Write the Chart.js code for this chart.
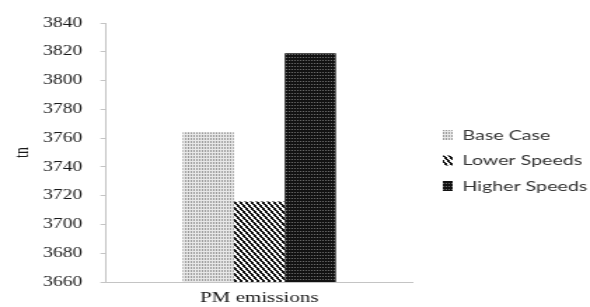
<!DOCTYPE html>
<html>
<head>
<meta charset="utf-8">
<script src="https://cdn.jsdelivr.net/npm/chart.js@4/dist/chart.umd.min.js"></script>
<style>
  html, body { margin: 0; padding: 0; background: #fff; overflow: hidden; }
  #wrap { width: 421px; height: 307px; transform: scaleX(1.4014); transform-origin: 0 0; }
</style>
</head>
<body>
<div id="wrap"><canvas id="pm-chart" width="421" height="307"></canvas></div>
<script>
const categories = ["PM emissions"];
const seriesNames = ["Base Case", "Lower Speeds", "Higher Speeds"];
const baseCase = [3764];
const lowerSpeeds = [3716];
const higherSpeeds = [3819];
const yTicks = [3660, 3680, 3700, 3720, 3740, 3760, 3780, 3800, 3820, 3840];

function makePattern(w, h, bg, paint) {
  const c = document.createElement("canvas");
  c.width = w;
  c.height = h;
  const g = c.getContext("2d");
  g.fillStyle = bg;
  g.fillRect(0, 0, w, h);
  paint(g);
  return document.getElementById("pm-chart").getContext("2d").createPattern(c, "repeat");
}

// light dotted fill
const dotsLight = makePattern(2, 3, "#e8e8e8", g => {
  g.fillStyle = "#9c9c9c";
  g.fillRect(0, 0, 1, 2);
});

// diagonal stripes, top-left to bottom-right
const stripes = makePattern(4, 6, "#ffffff", g => {
  g.fillStyle = "#111111";
  for (let y = 0; y < 6; y++) {
    const x = Math.round(y * 4 / 6);
    g.fillRect(x, y, 2, 1);
    if (x + 2 > 4) g.fillRect(0, y, x + 2 - 4, 1);
  }
});

// dark checker fill
const dotsDark = makePattern(2, 3, "#121212", g => {
  g.fillStyle = "#6e6e6e";
  g.fillRect(0, 0, 1, 1);
});

const fills = [dotsLight, stripes, dotsDark];
const values = [baseCase, lowerSpeeds, higherSpeeds];

// nudge the legend block to where the original sits
const legendShift = {
  id: "legendShift",
  afterLayout(chart) {
    const lg = chart.legend;
    if (!lg || !lg.columnSizes) return;
    const pad = lg.options.labels.padding;
    const startY = (lg.top + pad + lg.bottom - lg.columnSizes[0].height) / 2;
    const dy = 128 - startY;
    lg.top += dy;
    lg.bottom += dy;
    lg.left = 316 - pad;
    lg.right = chart.width;
    lg.width = lg.right - lg.left;
  }
};

new Chart(document.getElementById("pm-chart"), {
  type: "bar",
  data: {
    labels: categories,
    datasets: seriesNames.map((name, i) => ({
      label: name,
      data: values[i],
      backgroundColor: fills[i],
      borderWidth: 0
    }))
  },
  plugins: [legendShift],
  options: {
    responsive: false,
    animation: false,
    layout: { padding: { top: 23, right: 28.6, bottom: 0, left: 0 } },
    datasets: {
      bar: { categoryPercentage: 0.5, barPercentage: 1 }
    },
    plugins: {
      legend: {
        position: "right",
        labels: {
          boxWidth: 7,
          boxHeight: 10,
          padding: 11.5,
          color: "#333333",
          font: { family: "Lato", size: 14 }
        }
      },
      tooltip: { enabled: false }
    },
    scales: {
      x: {
        afterFit: s => { s.height = 25; },
        grid: { display: false, drawTicks: false },
        border: { display: true, color: "#c4c4c4", width: 1 },
        ticks: {
          padding: 7,
          color: "#1a1a1a",
          font: { family: "Liberation Serif", size: 15 }
        }
      },
      y: {
        min: yTicks[0],
        max: yTicks[yTicks.length - 1],
        afterBuildTicks: scale => {
          scale.ticks = yTicks.map(v => ({ value: v }));
        },
        afterFit: s => { s.width = 75.7; },
        grid: { drawOnChartArea: false, drawTicks: true, tickLength: 4, color: "#c4c4c4" },
        border: { display: true, color: "#c4c4c4", width: 1 },
        ticks: {
          padding: 13,
          color: "#1a1a1a",
          font: { family: "Liberation Serif", size: 14 },
          callback: v => String(v)
        },
        title: {
          display: true,
          text: "tn",
          color: "#1a1a1a",
          padding: { top: 7.6, bottom: 0 },
          font: { family: "Liberation Serif", size: 14 }
        }
      }
    }
  }
});
</script>
</body>
</html>
